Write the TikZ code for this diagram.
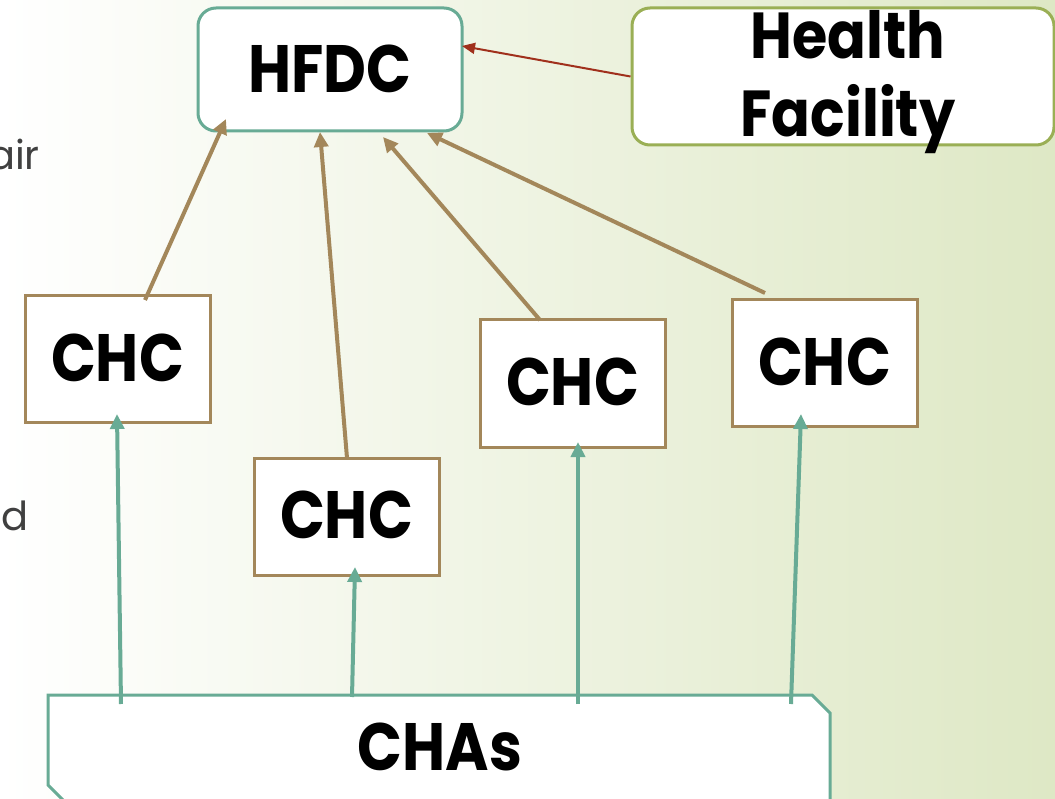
\documentclass[tikz,border=0pt]{standalone}
\usepackage{fontspec}
\setmainfont{Poppins}
\newfontfamily\boxfont[FakeStretch=0.88]{Poppins}
\usetikzlibrary{arrows.meta,calc}
\definecolor{tealc}{RGB}{104,171,149}
\definecolor{brownc}{RGB}{163,135,90}
\definecolor{redc}{RGB}{160,48,28}
\definecolor{olivec}{RGB}{154,175,85}
\definecolor{bgr}{RGB}{222,232,197}
\definecolor{fragc}{RGB}{64,64,64}
\tikzset{
  lbl/.style={font=\boxfont\bfseries\fontsize{67}{72}\selectfont, text=black, inner sep=0pt},
  chcbox/.style={draw=brownc, line width=3pt, fill=white, minimum width=185pt, minimum height=127pt, inner sep=0pt},
  brownarrow/.style={draw=brownc, line width=4pt, -{Triangle[length=15pt,width=14pt]}},
  tealarrow/.style={draw=tealc, line width=4pt, -{Triangle[length=15pt,width=14pt]}},
  frag/.style={font=\fontsize{40}{44}\selectfont, text=fragc, inner sep=0pt}
}
\begin{document}
\begin{tikzpicture}[x=1pt,y=-1pt]
\useasboundingbox (0,0) rectangle (1055,799);
\clip (0,0) rectangle (1055,799);
\shade[left color=white, right color=bgr] (0,0) rectangle (1055,799);

% left text fragments
\node[frag, anchor=base east] (fa) at (40,170) {air};
\node[frag, anchor=base east] (fd) at (29,530) {d};

% HFDC
\node[draw=tealc, line width=3pt, fill=white, rounded corners=18pt,
      minimum width=264pt, minimum height=123pt] (hfdc) at (330,69.5) {};
\node[lbl] (hfdct) at (330,69) {HFDC};

% Health Facility
\node[draw=olivec, line width=3pt, fill=white, rounded corners=18pt,
      minimum width=422pt, minimum height=137pt] (hf) at (843,76.5) {};
\node[lbl, align=center, font=\boxfont\bfseries\fontsize{65}{78}\selectfont] (hft) at (848,82) {Health\\Facility};

% CHC boxes
\node[chcbox] (c1) at (117.5,359.5) {};
\node[lbl] (c1t) at (117.5,358) {CHC};
\node[chcbox, minimum height=117pt] (c2) at (346.5,516.5) {};
\node[lbl] (c2t) at (346.5,515) {CHC};
\node[chcbox] (c3) at (572.5,383.5) {};
\node[lbl] (c3t) at (572.5,382) {CHC};
\node[chcbox] (c4) at (824.5,363.5) {};
\node[lbl] (c4t) at (824.5,362) {CHC};

% CHAs shape
\fill[white] (63,800) -- (48,785) -- (48,695) -- (812,695) -- (830,713) -- (830,800) -- cycle;
\draw[draw=tealc, line width=3pt]
  (63,800) -- (48,785) -- (48,695) -- (812,695) -- (830,713) -- (830,820);
\node[lbl] (chas) at (440,747) {CHAs};

% coordinates
\coordinate (b1s) at (145,300);
\coordinate (b1e) at (226,119);
\coordinate (b2s) at (347,458);
\coordinate (b2e) at (320,132);
\coordinate (b3s) at (540,320);
\coordinate (b3e) at (383,137);
\coordinate (b4s) at (765,293);
\coordinate (b4e) at (427,133);

\coordinate (t1s) at (121,704);
\coordinate (t1e) at (117,414);
\coordinate (t2s) at (352,697);
\coordinate (t2e) at (355,567);
\coordinate (t3s) at (578,704);
\coordinate (t3e) at (578,442);
\coordinate (t4s) at (791,704);
\coordinate (t4e) at (801,414);

\coordinate (rs) at (hf.west);
\coordinate (re) at (462,46);

% brown arrows
\draw[brownarrow] (b1s) -- (b1e);
\draw[brownarrow] (b2s) -- (b2e);
\draw[brownarrow] (b3s) -- (b3e);
\draw[brownarrow] (b4s) -- (b4e);

% teal arrows
\draw[tealarrow] (t1s) -- (t1e);
\draw[tealarrow] (t2s) -- (t2e);
\draw[tealarrow] (t3s) -- (t3e);
\draw[tealarrow] (t4s) -- (t4e);

% red arrow
\draw[draw=redc, line width=2pt, -{Triangle[length=13pt,width=11pt]}] (rs) -- (re);
\end{tikzpicture}
\end{document}
